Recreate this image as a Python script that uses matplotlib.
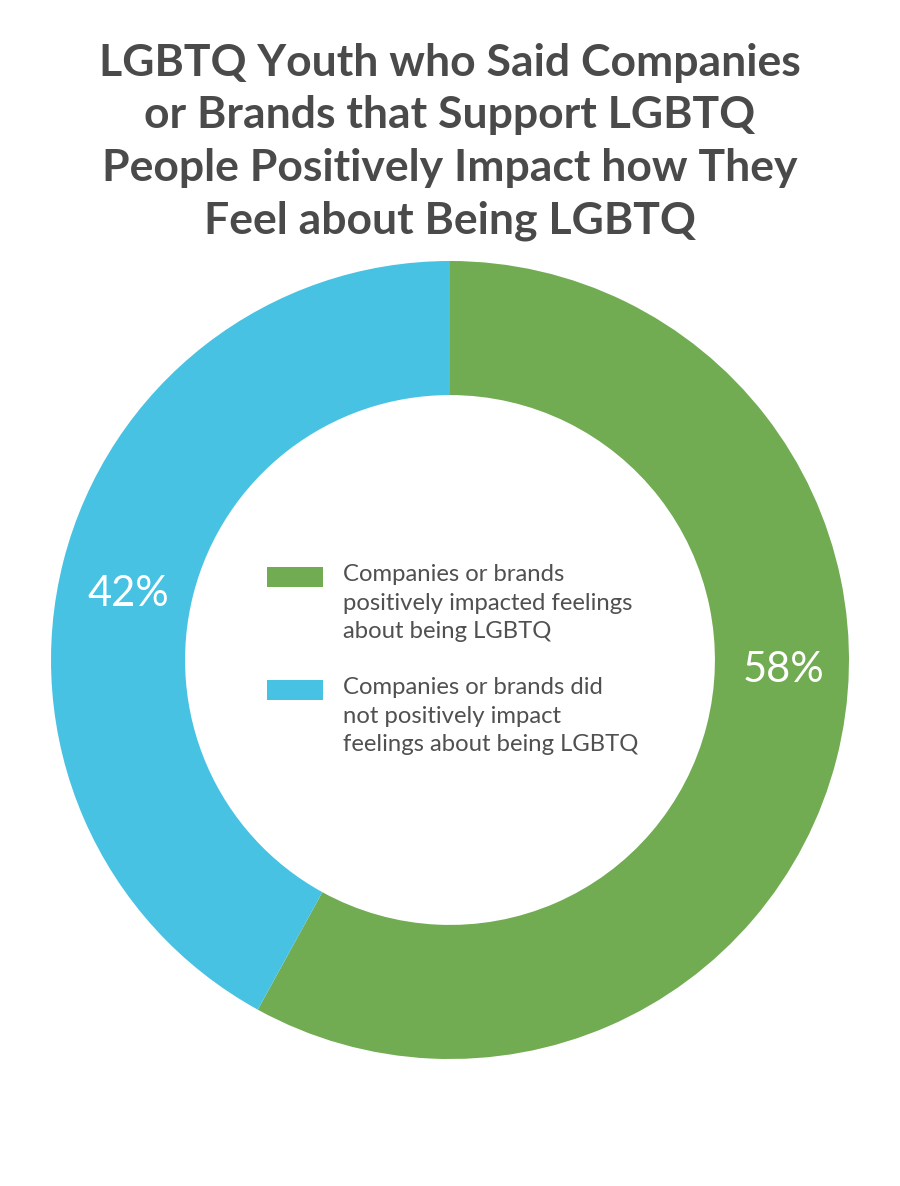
import matplotlib
matplotlib.use('Agg')
import matplotlib.pyplot as plt
from matplotlib.patches import Rectangle

plt.rcParams['font.family'] = ['Lato', 'DejaVu Sans']

# data
categories = ['Companies or brands\npositively impacted feelings\nabout being LGBTQ',
              'Companies or brands did\nnot positively impact\nfeelings about being LGBTQ']
values = [58, 42]
colors = ['#71ab52', '#47c2e3']
title = ('LGBTQ Youth who Said Companies\nor Brands that Support LGBTQ\n'
         'People Positively Impact how They\nFeel about Being LGBTQ')

W, H = 900, 1186
fig = plt.figure(figsize=(W / 100, H / 100), dpi=100)
fig.patch.set_facecolor('white')

# donut axes: center (450, 660), outer radius ~399 px
cx, cy, R = 450, 660, 399
ax = fig.add_axes([(cx - R) / W, (H - cy - R) / H, 2 * R / W, 2 * R / H])
ax.pie(values, colors=colors, startangle=90, counterclock=False,
       radius=1, wedgeprops=dict(width=0.336, linewidth=0))
ax.set_xlim(-1, 1)
ax.set_ylim(-1, 1)
ax.set_aspect('equal')
ax.axis('off')

# percentage labels
ax.text(0.835, -0.025, f'{values[0]}%', color='white', fontsize=30,
        ha='center', va='center')
ax.text(-0.807, 0.165, f'{values[1]}%', color='white', fontsize=30,
        ha='center', va='center')

# title
fig.text(0.5, 1 - 142 / H, title, ha='center', va='center', fontsize=32,
         fontweight='bold', color='#4a4a4a', linespacing=1.38)

# legend
grey = '#505050'
for lab, col, ytop in zip(categories, colors, [567, 680]):
    fig.patches.append(Rectangle((267 / W, 1 - (ytop + 20) / H), 56 / W, 20 / H,
                                 transform=fig.transFigure, facecolor=col,
                                 edgecolor='none'))
    fig.text(343 / W, 1 - (ytop - 3) / H, lab, ha='left', va='top',
             fontsize=17.2, color=grey, linespacing=1.45)

fig.savefig('out.png', dpi=100, facecolor='white')
